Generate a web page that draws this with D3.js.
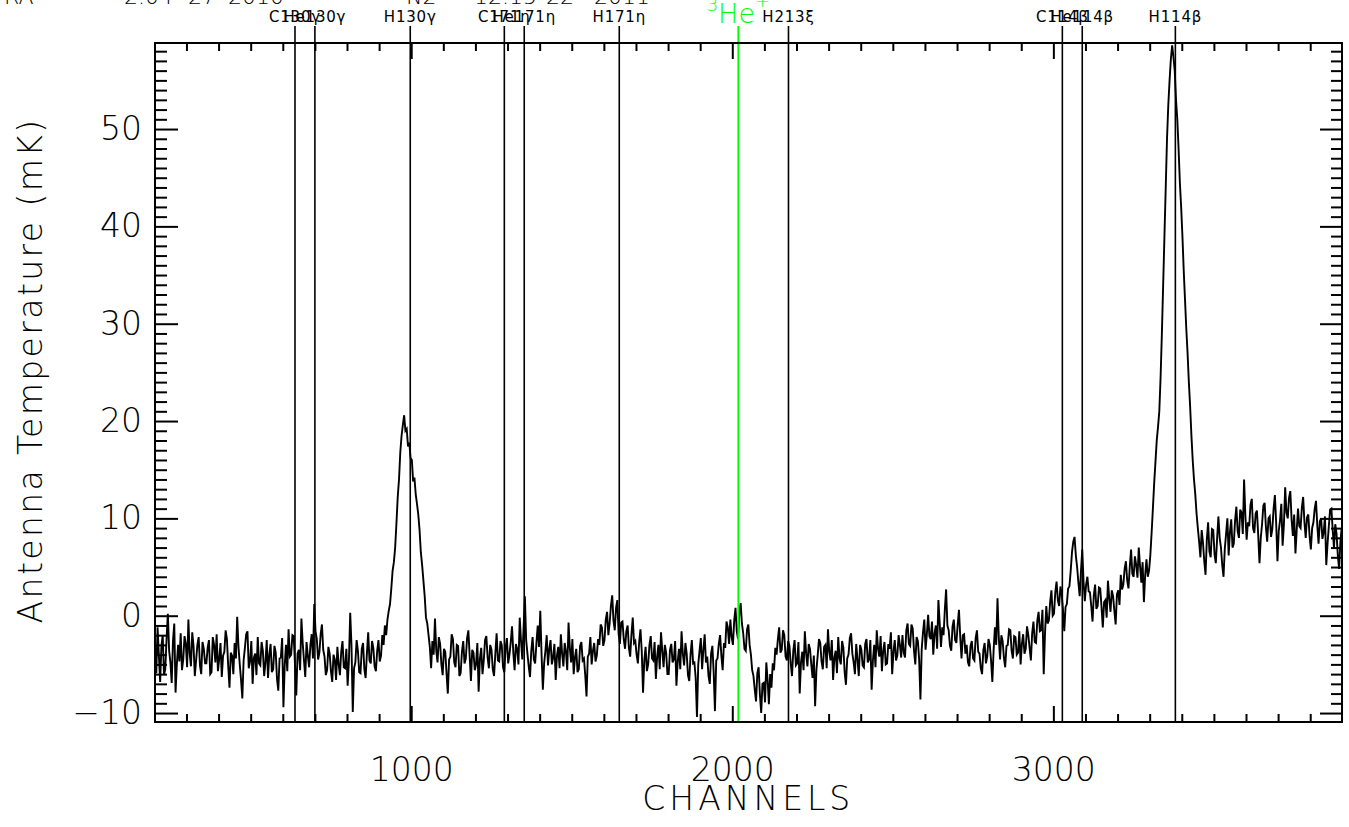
<!DOCTYPE html>
<html>
<head>
<meta charset="utf-8">
<script src="https://cdn.jsdelivr.net/npm/d3@7"></script>
<style>
  html, body { margin: 0; padding: 0; background: #fff; }
  svg { display: block; }
  text { font-family: "DejaVu Sans", "Liberation Sans", sans-serif; }
</style>
</head>
<body>
<svg id="spectrumChart"></svg>
<script>
// spectrum: antenna temperature (mK), one value every 4 channels starting at channel 202
const chanStart = 202;
const chanStep = 4;

const baseLeft = [
  -3.5,-5.9, -1.2,-4.0, -6.8,-3.1, -2.0,-6.1, -5.5,-2.4, 0.2,-3.6, -4.8,-6.9, -2.6,-0.8, -7.9,-5.0, -3.0,-4.7,
  -1.8,-5.6, -4.5,-2.1, -2.9,-5.3, -0.4,-3.9, -5.2,-1.7, -3.1,-6.2, -4.6,-3.0, -2.2,-5.1, -6.0,-2.7, -3.4,-4.9,
  -4.9,-3.3, -2.5,-6.0, -5.8,-2.2, -3.0,-4.8, -1.9,-5.7, -4.4,-2.8, -6.3,-4.1, -3.7,-1.5, -2.4,-5.2, -7.4,-3.8,
  -4.1,-6.0, -2.8,-4.4, -0.1,-3.2, -5.0,-6.6, -8.5,-4.6, -3.3,-1.9, -1.6,-5.4, -4.7,-2.6, -7.0,-4.3, -3.9,-6.1,
  -2.2,-4.9, -5.1,-2.7, -3.6,-6.2, -4.8,-2.5, -6.4,-4.0, -2.9,-5.8, -5.5,-3.1, -3.8,-6.5, -7.7,-4.4, -4.3,-2.3,
  -9.4,-5.1, -3.0,-5.7, -1.4,-4.2, -4.0,-2.0, -2.1,-5.0, -8.2,-3.9, -3.5,-5.6, -0.3,-2.8, -4.6,-6.3, -2.7,-4.1,
  -5.3,-3.0, -1.9,-4.4, 1.2,-1.6, -2.4,-4.5, -3.8,-1.9, -0.9,-3.5, -4.2,-6.1, -5.6,-3.2, -3.9,-5.7, -6.8,-4.0,
  -4.5,-6.6, -3.2,-5.0, -6.1,-3.7, -2.6,-5.3, -5.4,-3.4, -7.2,-4.6, 0.3,-3.1, -9.9,-5.4, -4.8,-2.5, -3.6,-5.8,
  -5.9,-3.4, -2.8,-5.5, -6.4,-3.9, -1.7,-4.6, -4.9,-2.6, -3.3,-5.2, -5.7,-3.6, -2.5,-4.7, -4.1,-2.0, -3.0,-1.0
];

const peakGamma = [
  -2.0,-0.4, 0.5,1.2, 2.8,4.6, 5.5,7.0, 9.5,12.2, 14.0,16.8, 18.5,19.6, 20.6,19.0, 19.2,17.4, 17.8,16.2,
  16.0,13.8, 14.2,12.5, 11.5,10.4, 8.8,6.5, 5.2,3.6, 2.0,-0.2, -0.8,-2.0, -3.2,-5.4, -2.6,-4.0
];

const baseMid = [
  -0.3,-3.6, -4.8,-2.2, -2.9,-5.0, -6.1,-3.4, -3.7,-5.9, -8.0,-4.5, -4.2,-1.9, -2.4,-4.8, -5.3,-3.0, -3.1,-6.2,
  -5.9,-3.7, -2.6,-4.9, -4.4,-2.3, -1.5,-4.1, -6.7,-3.5, -3.8,-5.6, -5.0,-2.8, -7.8,-4.4, -3.3,-6.0, -4.6,-2.5,
  -2.1,-4.3, -5.4,-3.0, -3.5,-5.5, -6.2,-3.9, -1.8,-4.6, -4.7,-2.6, -3.0,-5.3, -5.8,-3.3, -2.3,-4.9, -4.0,-2.7,
  -1.1,-3.8, -5.6,-2.9, -3.4,-5.0, -0.2,-2.6, -4.5,-1.2, 2.0,-2.5, -3.9,-5.2, -6.3,-3.6, -2.2,-4.5, -4.9,-2.8,
  -1.0,-3.2, 0.5,-4.0, -7.6,-4.9, -3.6,-2.0, -5.1,-3.4, -2.5,-5.0, -4.3,-2.9, -6.6,-4.1, -3.2,-5.4, -1.9,-3.9,
  -5.2,-2.8, -3.7,-5.6, -0.7,-3.3, -4.8,-2.4, -6.0,-4.3, -3.4,-5.8, -5.5,-3.1, -2.7,-4.6, -4.4,-6.1, -8.3,-4.2,
  -3.9,-2.2, -5.0,-3.6, -2.8,-4.7, -4.1,-2.4
];

const bumpEta = [
  -3.0,-0.9, -1.2,-3.1, -2.5,-0.4, 0.4,-2.0, -0.8,1.0, 2.1,-0.5, -1.5,0.8, 1.6,-1.9, -2.9,-0.7, -0.6,-2.4,
  -3.4,-1.6, -1.0,-3.3, -4.2,-1.9, -0.2,-2.8, -2.6,-4.0, -4.9,-2.7, -1.4,-3.6
];

const baseCentre = [
  -7.9,-4.6, -3.2,-5.7, -5.0,-3.0, -2.1,-4.4, -4.6,-2.7, -6.5,-4.2, -3.0,-5.5, -1.7,-3.6, -5.3,-3.0, -3.8,-6.0,
  -6.0,-3.5, -2.9,-4.8, -4.5,-2.6, -7.2,-4.7, -3.4,-5.5, -1.6,-3.9, -5.1,-2.8, -3.9,-6.1, -6.7,-4.0, -2.5,-4.9,
  -4.8,-6.4, -10.4,-5.0, -3.6,-2.3, -5.5,-3.5, -1.9,-4.8, -4.2,-6.2, -7.0,-3.9, -3.1,-5.8, -9.8,-4.6, -4.4,-2.9,
  -2.0,-4.1, -5.6,-2.8, -3.3,-0.6, -1.2,-2.9,
  -0.4,-2.2, -3.0,-0.5, 0.8,-1.6, -2.4,0.4, 1.3,-0.8, -1.8,-3.4, -3.6,-1.4, -0.9,-3.0, -4.0,-5.6,
  -6.2,-7.6, -8.8,-5.9, -5.3,-8.1, -10.0,-7.0, -6.9,-8.9, -4.8,-6.6, -9.1,-6.0, -7.4,-4.9, -5.6,-3.3,
  -4.0,-2.4, -1.2,-3.8, -3.5,-1.5, -2.0,-4.2, -4.6,-2.6
];

const baseRight = [
  -3.1,-4.9, -6.2,-3.6, -2.5,-5.1, -4.9,-2.7, -8.0,-4.8, -3.7,-5.6, -1.6,-3.9, -5.2,-2.9, -3.4,-5.0, -6.4,-4.1,
  -9.3,-5.6, -4.1,-2.4, -2.8,-4.7, -5.5,-3.2, -3.0,-5.4, -1.4,-3.7, -4.6,-2.5, -6.6,-4.3, -3.6,-5.9, -2.2,-4.4,
  -5.0,-2.6, -3.3,-5.8, -7.1,-4.4, -4.0,-2.3, -1.8,-3.9, -4.8,-6.0, -2.9,-4.5, -6.2,-3.0, -3.5,-5.1, -5.3,-2.9,
  -2.4,-4.8, -4.5,-2.5, -7.6,-4.6, -3.0,-5.3, -1.5,-3.4, -4.2,-2.1, -5.7,-3.6, -2.7,-5.0, -4.9,-2.9, -3.4,-1.7,
  -6.0,-3.7, -2.5,-4.6, -4.1,-2.0, -3.0,-4.3,
  -2.0,-3.8, -4.3,-1.5, -0.8,-2.9, -3.1,-0.9, -1.3,-3.6, -5.0,-2.2, -2.6,-4.5, -8.6,-3.4, -1.7,-0.4, -3.5,-1.9,
  0.1,-2.1, -2.4,-0.6, -4.0,-1.8, -1.0,-3.4, 1.6,-0.8, -3.2,-1.2, -2.0,0.6, 2.7,-1.0, -1.5,-3.1, -3.6,-1.1,
  -0.4,-2.5, -2.8,-0.9, 0.6,-2.2, -4.4,-2.0, -1.9,-3.9, -3.0,-4.8,
  -5.2,-3.1, -2.6,-4.4, -4.6,-2.3, -1.5,-3.7, -3.9,-5.4, -6.0,-3.5, -2.8,-4.9, -4.2,-2.4
];

const riseBeta = [
  -3.0,-4.6, -6.8,-3.5, -1.2,-3.0, 1.8,-2.2, -4.5,-2.0, -2.6,-4.3, -5.3,-3.1, -3.0,-1.4, -1.5,-3.6, -4.4,-2.1,
  -2.2,-4.0, -3.8,-1.6, -5.0,-2.9, -1.9,-3.9, -3.4,-1.1, -2.0,-3.3, -4.6,-1.8, -0.6,-2.7, -2.8,-0.5, 0.4,-1.6,
  -1.5,0.6, -6.0,-1.8, 1.0,-0.8,
  -0.5,1.4, 2.6,0.0, 0.2,2.4, 3.5,1.6, 1.0,3.0, 2.2,0.6, -1.6,0.9, 1.2,2.8, 3.0,4.6,
  6.5,7.6, 8.1,6.2, 5.0,3.4, 2.0,4.6, 6.8,3.5, 1.5,3.2, 4.0,2.5,
  2.4,1.0, -0.6,2.1, 3.2,0.7, 1.0,2.9, 2.8,0.9, -1.2,1.4, 1.6,-0.2, 3.6,1.8, 0.4,2.6, 2.0,0.5, -0.9,2.2, 2.6,1.1, 4.2,2.7,
  3.2,4.8, 5.6,3.6, 2.8,5.0, 6.8,4.3, 4.0,6.1, 5.2,3.9, 7.0,5.1, 3.4,5.5, 1.4,4.2, 5.8,4.0, 4.6,6.2
];

const peakBeta = [
  8.5,11.0, 13.6,15.8, 18.0,19.4, 21.0,24.5, 29.0,34.0, 39.0,44.0, 49.0,52.5, 55.0,57.2, 58.6,57.4, 56.0,53.0,
  51.0,48.0, 44.5,42.0, 39.0,35.5, 32.5,29.5, 27.0,24.0, 21.5,18.5, 16.0,14.0, 12.5,10.5, 9.0,7.6, 6.0,8.8
];

const plateau = [
  7.5,5.6, 4.2,7.8, 9.6,6.6, 6.0,8.9, 8.8,6.3, 5.4,7.9, 10.2,8.0, 7.0,5.2, 4.0,6.9, 8.4,10.0,
  6.2,8.6, 9.9,7.0, 7.4,9.8, 11.2,8.7, 8.0,10.9, 10.6,8.4, 14.0,10.3, 7.8,9.6, 9.2,11.4, 12.0,9.0,
  8.5,10.5, 10.8,8.3, 5.4,8.0, 9.4,11.3, 11.6,9.1, 7.6,10.0, 10.2,8.1, 8.9,11.0, 12.4,9.5, 5.6,8.7,
  9.8,11.5, 7.2,9.3, 13.2,10.6, 10.0,12.1, 12.8,9.9, 8.2,10.4, 6.4,8.8, 11.0,9.2, 9.0,11.1, 12.2,9.6,
  8.0,10.1, 10.4,8.2, 6.8,9.0, 9.6,11.0, 11.8,9.3, 7.4,9.7, 10.0,7.9, 8.6,10.2, 5.2,7.4, 9.2,10.9,
  11.0,8.8, 7.0,9.4, 8.4,6.2, 4.8,7.6, 9.0
];

// recombination line markers
const lineNames = ["C130γ", "He130γ", "H130γ", "C171η", "He171η", "H171η", "H213ξ", "C114β", "He114β", "H114β"];
const lineChans = [638, 700, 997, 1290, 1352, 1648, 2175, 3028, 3090, 3380];
const he3Chan = 2019;

// axes
const xDomain = [202, 3899];
const yDomain = [-10.92, 58.84];
const xMajorTicks = [1000, 2000, 3000];
const yMajorTicks = [-10, 0, 10, 20, 30, 40, 50];

// header line, cut off at the top of the page
const headerBits = [
  { t: "RA", x: 4 }, { t: "2.04", x: 124 }, { t: "27", x: 188 }, { t: "2010", x: 228 },
  { t: "N2", x: 406 }, { t: "12.15", x: 474 }, { t: "22", x: 546 }, { t: "2011", x: 594 }
];

function getChartConfig() {
  const dimensions = {
    width: 1349,
    height: 827,
    margin: { top: 43, bottom: 105, left: 155, right: 7 }
  };
  const chart = d3.select("#spectrumChart")
    .attr("width", dimensions.width)
    .attr("height", dimensions.height);
  return {
    dimensions,
    container: chart,
    inner: {
      width: dimensions.width - dimensions.margin.left - dimensions.margin.right,
      height: dimensions.height - dimensions.margin.top - dimensions.margin.bottom
    }
  };
}

function getSpectrum() {
  const temps = [].concat(baseLeft, peakGamma, baseMid, bumpEta, baseCentre,
    baseRight, riseBeta, peakBeta, plateau);
  return temps.map((t, i) => ({ chan: chanStart + i * chanStep, temp: t }));
}

function getScales(config) {
  const xScale = d3.scaleLinear().domain(xDomain).range([0, config.inner.width]);
  const yScale = d3.scaleLinear().domain(yDomain).range([config.inner.height, 0]);
  return { xScale, yScale };
}

function drawAxes(config, scales) {
  const { xScale, yScale } = scales;
  const { margin } = config.dimensions;
  const W = config.inner.width, H = config.inner.height;
  const g = config.container.append("g")
    .attr("transform", `translate(${margin.left},${margin.top})`);

  const xMinor = d3.range(300, 3900, 100).filter(v => v % 1000 !== 0);
  const yMinor = d3.range(-10, 59, 1).filter(v => v % 10 !== 0);

  const style = sel => {
    sel.select(".domain").remove();
    sel.selectAll(".tick line").attr("stroke", "#000").attr("stroke-width", 2);
  };

  // bottom
  g.append("g").attr("transform", `translate(0,${H})`)
    .call(d3.axisBottom(xScale).tickValues(xMinor).tickSize(-8).tickFormat(""))
    .call(style);
  g.append("g").attr("transform", `translate(0,${H})`)
    .call(d3.axisBottom(xScale).tickValues(xMajorTicks).tickSize(-16).tickPadding(36).tickFormat(d3.format("d")))
    .call(style)
    .selectAll("text")
    .attr("font-size", 33).attr("font-weight", 200).attr("fill", "#000")
    .attr("font-family", "DejaVu Sans");

  // top
  g.append("g")
    .call(d3.axisTop(xScale).tickValues(xMinor).tickSize(-8).tickFormat(""))
    .call(style);
  g.append("g")
    .call(d3.axisTop(xScale).tickValues(xMajorTicks).tickSize(-16).tickFormat(""))
    .call(style);

  // left
  g.append("g")
    .call(d3.axisLeft(yScale).tickValues(yMinor).tickSize(-12).tickFormat(""))
    .call(style);
  g.append("g")
    .call(d3.axisLeft(yScale).tickValues(yMajorTicks).tickSize(-23).tickPadding(13)
      .tickFormat(v => v < 0 ? "\u2212" + Math.abs(v) : String(v)))
    .call(style)
    .selectAll("text")
    .attr("font-size", 33).attr("font-weight", 200).attr("fill", "#000")
    .attr("font-family", "DejaVu Sans");

  // right
  g.append("g").attr("transform", `translate(${W},0)`)
    .call(d3.axisRight(yScale).tickValues(yMinor).tickSize(-11).tickFormat(""))
    .call(style);
  g.append("g").attr("transform", `translate(${W},0)`)
    .call(d3.axisRight(yScale).tickValues(yMajorTicks).tickSize(-22).tickFormat(""))
    .call(style);

  // frame
  g.append("rect")
    .attr("width", W).attr("height", H)
    .attr("fill", "none").attr("stroke", "#000").attr("stroke-width", 2);

  // titles
  config.container.append("text")
    .attr("x", margin.left + xScale(2050)).attr("y", 810)
    .attr("text-anchor", "middle")
    .attr("font-size", 33).attr("font-weight", 200)
    .attr("letter-spacing", 4)
    .text("CHANNELS");

  config.container.append("text")
    .attr("transform", `translate(42,${margin.top + yScale(25.2)}) rotate(-90)`)
    .attr("text-anchor", "middle")
    .attr("font-size", 33).attr("font-weight", 200)
    .attr("letter-spacing", 2.4)
    .text("Antenna Temperature (mK)");
}

function drawLine(config, scales, data) {
  const { xScale, yScale } = scales;
  const { margin } = config.dimensions;
  config.container.append("path")
    .datum(data)
    .attr("d", d3.line().x(d => xScale(d.chan)).y(d => yScale(d.temp)))
    .attr("transform", `translate(${margin.left},${margin.top})`)
    .attr("stroke", "#000")
    .attr("stroke-width", 1.9)
    .attr("fill", "none");
}

function drawMarkers(config, scales) {
  const { xScale } = scales;
  const { margin } = config.dimensions;
  const H = config.inner.height;
  const g = config.container.append("g")
    .attr("transform", `translate(${margin.left},0)`);

  g.selectAll("line.rrl")
    .data(lineChans)
    .join("line")
    .attr("class", "rrl")
    .attr("x1", d => xScale(d)).attr("x2", d => xScale(d))
    .attr("y1", 26).attr("y2", margin.top + H)
    .attr("stroke", "#000").attr("stroke-width", 1.6);

  g.selectAll("text.rrl")
    .data(lineNames)
    .join("text")
    .attr("class", "rrl")
    .attr("x", (d, i) => xScale(lineChans[i]))
    .attr("y", 22)
    .attr("text-anchor", "middle")
    .attr("font-size", 15)
    .attr("letter-spacing", 0.8)
    .text(d => d);

  g.append("line")
    .attr("x1", xScale(he3Chan)).attr("x2", xScale(he3Chan))
    .attr("y1", 26).attr("y2", margin.top + H)
    .attr("stroke", "#00ff00").attr("stroke-width", 2);

  const he = g.append("text")
    .attr("x", xScale(he3Chan))
    .attr("y", 23)
    .attr("text-anchor", "middle")
    .attr("font-size", 27).attr("font-weight", 200)
    .attr("fill", "#00ff00");
  he.append("tspan").attr("font-size", 18).attr("dy", -12).text("3");
  he.append("tspan").attr("dy", 12).text("He");
  he.append("tspan").attr("font-size", 18).attr("dy", -16).text("+");

  config.container.append("g")
    .selectAll("text")
    .data(headerBits)
    .join("text")
    .attr("x", d => d.x)
    .attr("y", 4)
    .attr("font-size", 22).attr("font-weight", 200)
    .text(d => d.t);
}

function renderSpectrum() {
  const data = getSpectrum();
  const config = getChartConfig();
  const scales = getScales(config);
  drawLine(config, scales, data);
  drawMarkers(config, scales);
  drawAxes(config, scales);
}

renderSpectrum();
</script>
</body>
</html>
